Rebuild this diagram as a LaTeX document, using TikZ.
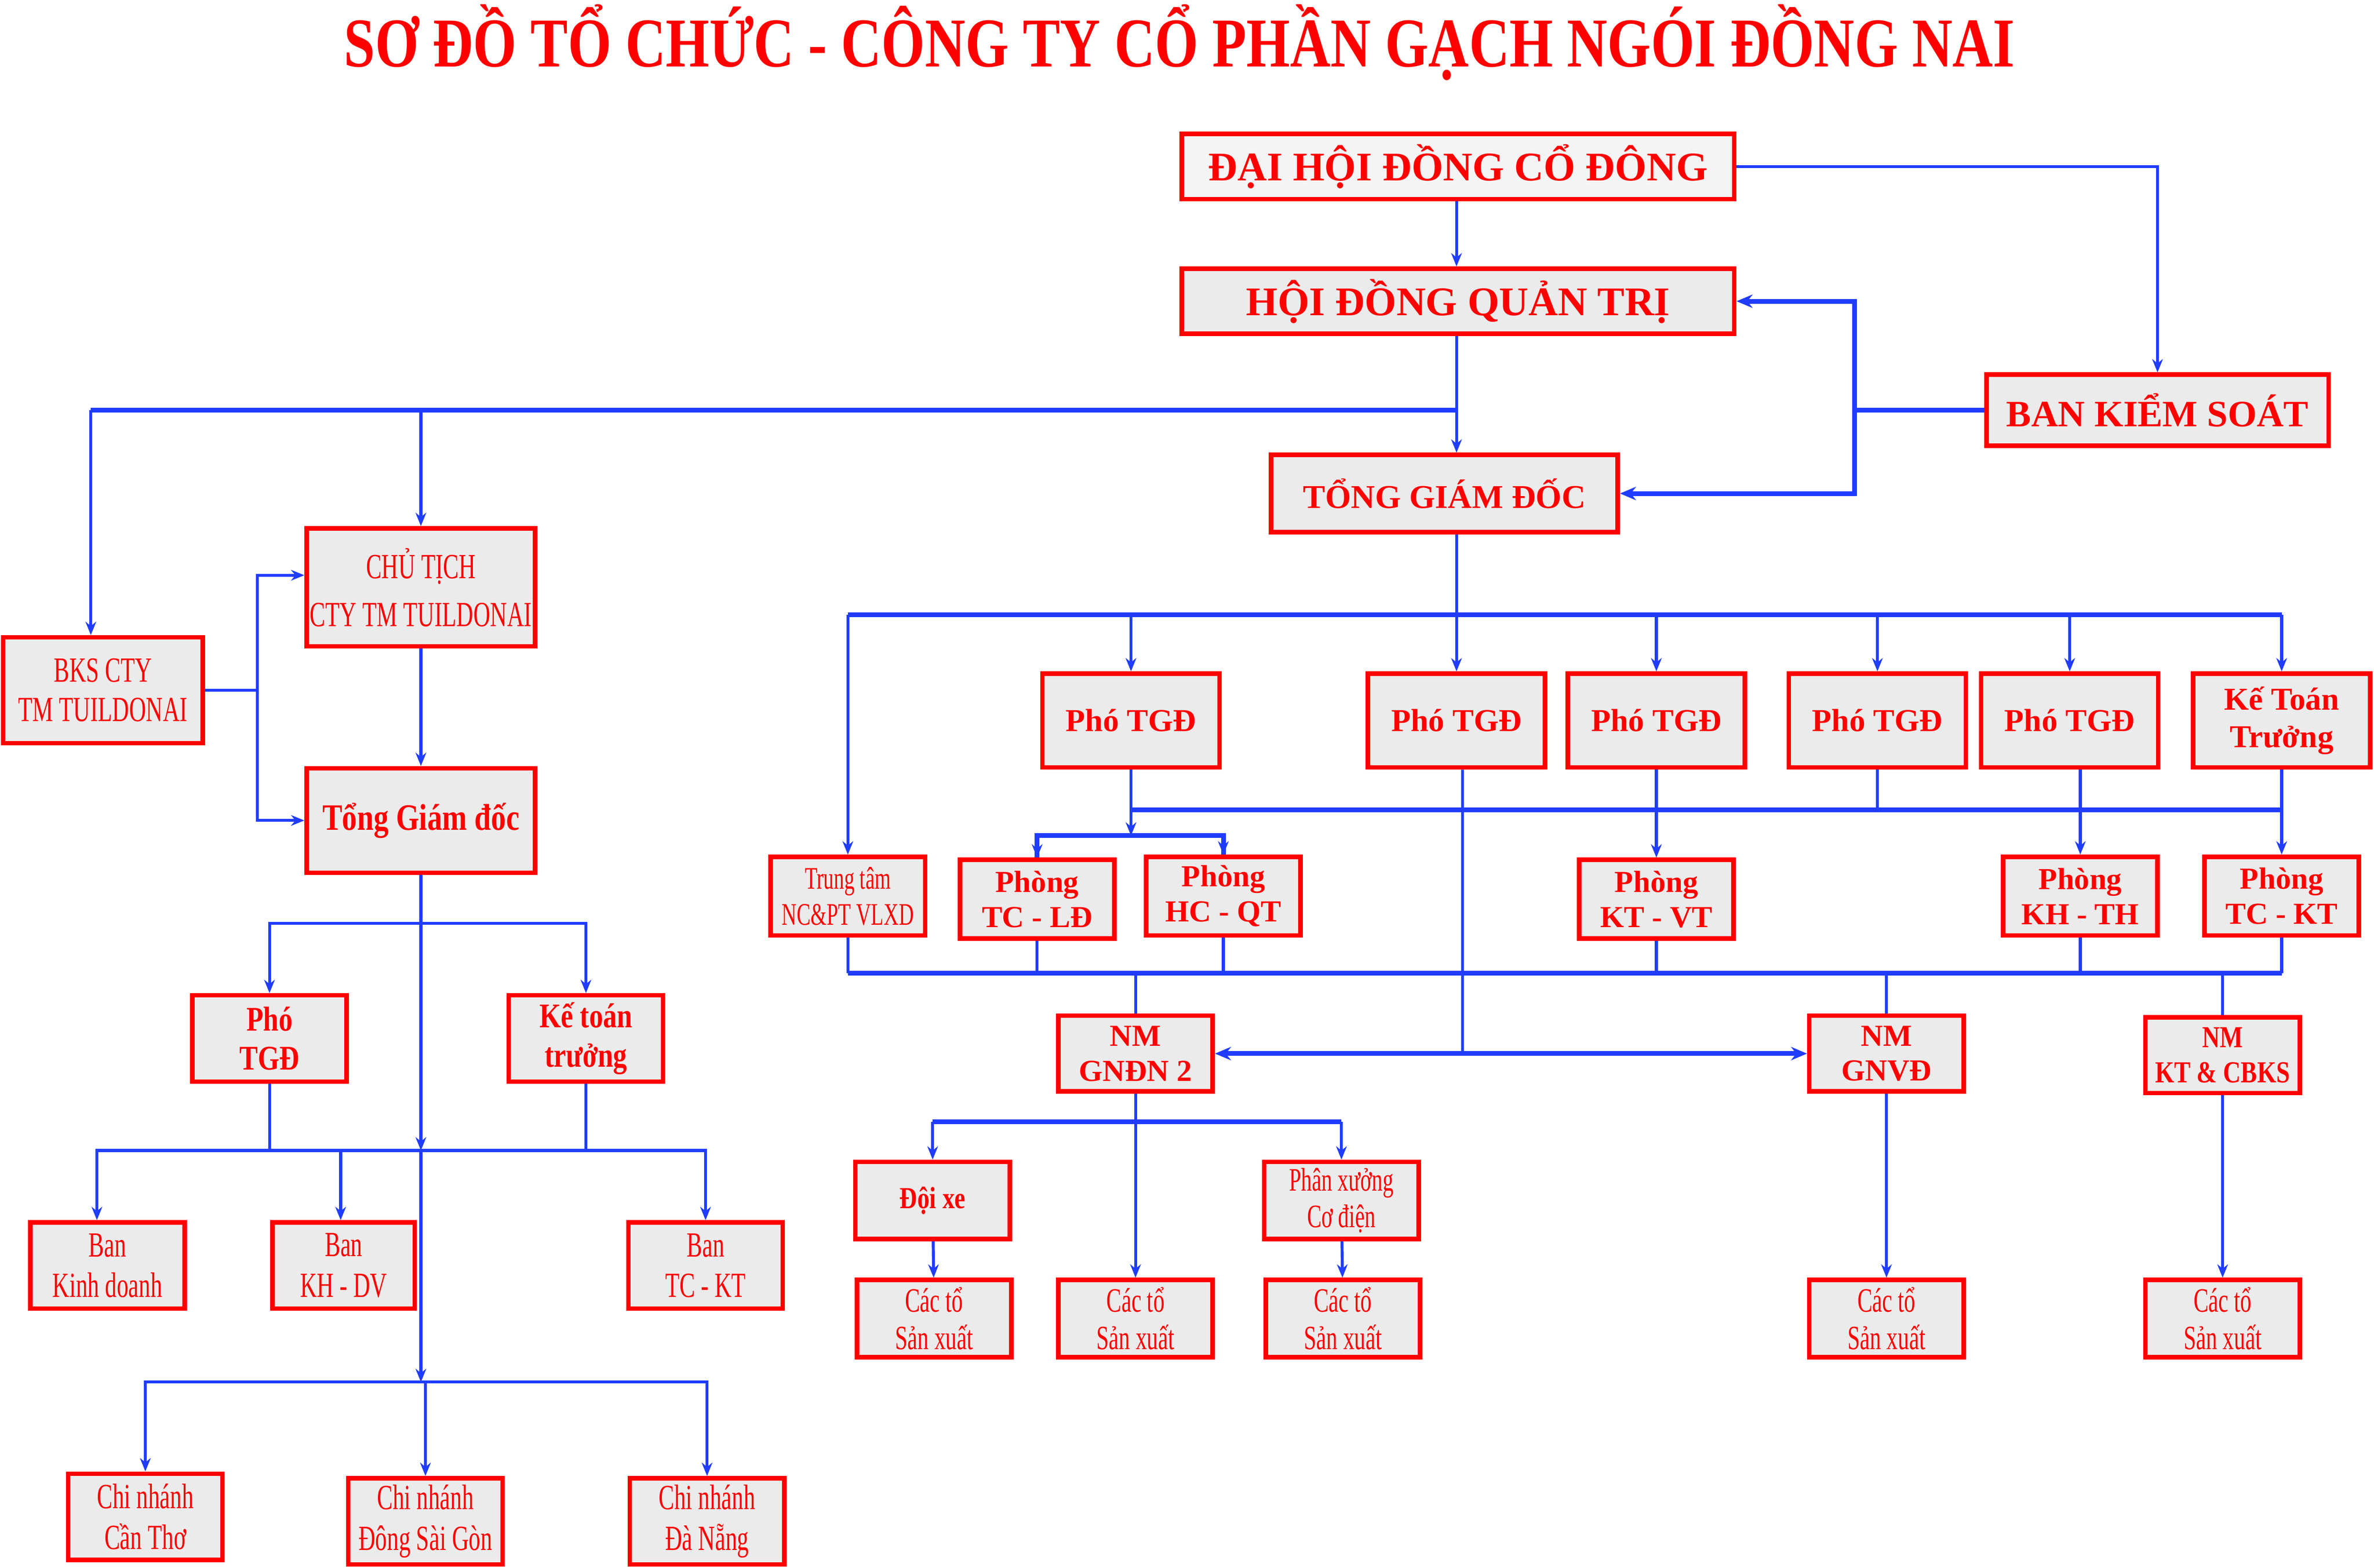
\documentclass[tikz,border=0pt]{standalone}
\usepackage{fontspec}
\setmainfont{Liberation Serif}
\newfontfamily\condfont{Liberation Serif}[FakeStretch=0.8]
\newfontfamily\narrowfont{Liberation Serif}[FakeStretch=0.66]
\usetikzlibrary{arrows.meta}
\definecolor{boxred}{RGB}{255,0,0}
\definecolor{boxgray}{RGB}{235,235,235}
\definecolor{boxlight}{RGB}{244,244,244}
\definecolor{linkblue}{RGB}{32,60,255}
\tikzset{
  box/.style={draw=boxred, line width=1.7pt, fill=boxgray, text=boxred, align=center, inner sep=1pt},
  sbox/.style={box, minimum width=2.04cm, minimum height=1.14cm},
  rbox/.style={box, minimum width=2.04cm, minimum height=1.04cm},
  pbox/.style={box, minimum width=2.34cm, minimum height=1.24cm},
  boldtxt/.style={font=\bfseries\fontsize{11.5}{13.2}\selectfont},
  condtxt/.style={font=\condfont\bfseries\fontsize{13}{14.8}\selectfont},
  thintxt/.style={font=\narrowfont\fontsize{13.3}{15.3}\selectfont},
  link/.style={draw=linkblue, line width=1.1pt},
  bus/.style={draw=linkblue, line width=1.8pt},
  arr/.style={link, -{Stealth[length=5pt,width=4pt]}},
  arrb/.style={bus, -{Stealth[length=6pt,width=5pt]}}
}
\begin{document}
\begin{tikzpicture}[x=0.02cm, y=-0.02cm]
\fill[white] (0,0) rectangle (1568,1035.8);
\useasboundingbox (0,0) rectangle (1568,1035.8);

\node[anchor=base, text=boxred, font=\condfont\bfseries\fontsize{26.3}{30}\selectfont] (title) at (779,44)
  {SƠ ĐỒ TỔ CHỨC - CÔNG TY CỔ PHẦN GẠCH NGÓI ĐỒNG NAI};

% top
\node[box, fill=boxlight, minimum width=7.3cm, minimum height=.86cm, font=\bfseries\fontsize{15.3}{18}\selectfont] (dhcd) at (963,110) {ĐẠI HỘI ĐỒNG CỔ ĐÔNG};
\node[box, minimum width=7.3cm, minimum height=.86cm, font=\bfseries\fontsize{15.3}{18}\selectfont] (hdqt) at (963,199) {HỘI ĐỒNG QUẢN TRỊ};
\node[box, minimum width=4.52cm, minimum height=.94cm, font=\bfseries\fontsize{14}{16}\selectfont] (bks) at (1425,271) {BAN KIỂM SOÁT};
\node[box, minimum width=4.58cm, minimum height=1.02cm, font=\bfseries\fontsize{12.5}{15}\selectfont] (tgd) at (954,326) {TỔNG GIÁM ĐỐC};

% left branch
\node[box, minimum width=2.64cm, minimum height=1.4cm, font=\narrowfont\fontsize{13.3}{14.8}\selectfont] (bkscty) at (68,456) {BKS CTY\\TM TUILDONAI};
\node[box, minimum width=3.02cm, minimum height=1.56cm, font=\narrowfont\fontsize{13.3}{18}\selectfont] (chutich) at (278,388) {CHỦ TỊCH\\CTY TM TUILDONAI};
\node[box, minimum width=3.02cm, minimum height=1.38cm, font=\condfont\bfseries\fontsize{14}{16}\selectfont] (tgdl) at (278,542) {Tổng Giám đốc};
\node[sbox, condtxt] (phol) at (178,686) {Phó\\TGĐ};
\node[sbox, condtxt] (kttl) at (387,686) {Kế toán\\trưởng};
\node[sbox, thintxt] (bankd) at (71,836) {Ban\\Kinh doanh};
\node[sbox, thintxt, minimum width=1.88cm] (bankh) at (227,836) {Ban\\KH - DV};
\node[sbox, thintxt] (bantc) at (466,836) {Ban\\TC - KT};
\node[sbox, thintxt] (cantho) at (96,1002) {Chi nhánh\\Cần Thơ};
\node[sbox, thintxt] (dsg) at (281,1005) {Chi nhánh\\Đông Sài Gòn};
\node[sbox, thintxt] (danang) at (467,1005) {Chi nhánh\\Đà Nẵng};

% right branch
\node[pbox, font=\bfseries\fontsize{12}{14.2}\selectfont] (pho1) at (747,476) {Phó TGĐ};
\node[pbox, font=\bfseries\fontsize{12}{14.2}\selectfont] (pho2) at (962,476) {Phó TGĐ};
\node[pbox, font=\bfseries\fontsize{12}{14.2}\selectfont] (pho3) at (1094,476) {Phó TGĐ};
\node[pbox, font=\bfseries\fontsize{12}{14.2}\selectfont] (pho4) at (1240,476) {Phó TGĐ};
\node[pbox, font=\bfseries\fontsize{12}{14.2}\selectfont] (pho5) at (1367,476) {Phó TGĐ};
\node[pbox, font=\bfseries\fontsize{12}{14.2}\selectfont] (ktt2) at (1507,476) {Kế Toán\\Trưởng};

\node[rbox, font=\narrowfont\fontsize{11.8}{13.6}\selectfont] (ttam) at (560,592) {Trung tâm\\NC\&PT VLXD};
\node[rbox, boldtxt] (phtcld) at (685,594) {Phòng\\TC - LĐ};
\node[rbox, boldtxt] (phhcqt) at (808,592) {Phòng\\HC - QT};
\node[rbox, boldtxt] (phktvt) at (1094,594) {Phòng\\KT - VT};
\node[rbox, boldtxt] (phkhth) at (1374,592) {Phòng\\KH - TH};
\node[rbox, boldtxt] (phtckt) at (1507,592) {Phòng\\TC - KT};

\node[rbox, boldtxt, minimum height=1cm] (nmgndn) at (750,696) {NM\\GNĐN 2};
\node[rbox, boldtxt, minimum height=1cm] (nmgnvd) at (1246,696) {NM\\GNVĐ};
\node[rbox, minimum height=1cm, font=\condfont\bfseries\fontsize{11.5}{13.2}\selectfont] (nmkt) at (1468,697) {NM\\KT \& CBKS};

\node[rbox, minimum height=1.02cm, font=\condfont\bfseries\fontsize{11.5}{13.2}\selectfont] (doixe) at (616,793) {Đội xe};
\node[rbox, minimum height=1.02cm, font=\narrowfont\fontsize{12.3}{13.6}\selectfont] (pxcd) at (886,793) {Phân xưởng\\Cơ điện};
\node[rbox, minimum height=1.02cm, font=\narrowfont\fontsize{12.8}{14.2}\selectfont] (cato1) at (617,871) {Các tổ\\Sản xuất};
\node[rbox, minimum height=1.02cm, font=\narrowfont\fontsize{12.8}{14.2}\selectfont] (cato2) at (750,871) {Các tổ\\Sản xuất};
\node[rbox, minimum height=1.02cm, font=\narrowfont\fontsize{12.8}{14.2}\selectfont] (cato3) at (887,871) {Các tổ\\Sản xuất};
\node[rbox, minimum height=1.02cm, font=\narrowfont\fontsize{12.8}{14.2}\selectfont] (cato4) at (1246,871) {Các tổ\\Sản xuất};
\node[rbox, minimum height=1.02cm, font=\narrowfont\fontsize{12.8}{14.2}\selectfont] (cato5) at (1468,871) {Các tổ\\Sản xuất};

% junctions
\coordinate (j0) at (962,271);
\coordinate (kv) at (1225,271);
\coordinate (kl) at (170,456);
\coordinate (s1) at (278,610);
\coordinate (s2) at (278,760);
\coordinate (s3) at (278,913);
\coordinate (r0) at (962,406);
\coordinate (r1) at (747,535);
\coordinate (r2) at (747,552);
\coordinate (r3) at (560,643);
\coordinate (r4) at (966,696);
\coordinate (r5) at (750,741);

% top links
\draw[arr] (dhcd.south -| j0) -- (hdqt.north -| j0);
\draw[arr] (dhcd.east) -| (bks.north);
\draw[arr] (hdqt.south -| j0) -- (tgd.north -| j0);
\draw[bus] (bks.west) -- (kv);
\draw[arrb] (kv) |- (hdqt.east);
\draw[arrb] (kv) |- (tgd.east);

% left links
\draw[bus] (j0) -- ([xshift=-.16cm]bkscty.north |- j0);
\draw[arr] ([xshift=-.16cm]bkscty.north |- j0) -- ([xshift=-.16cm]bkscty.north);
\draw[arr] (chutich |- j0) -- (chutich);
\draw[link] (bkscty) -- (kl);
\draw[arr] (kl) |- ([yshift=.16cm]chutich.west);
\draw[arr] (kl) |- (tgdl);
\draw[arr] (chutich) -- (tgdl);
\draw[link] (tgdl) -- (s1);
\draw[arr] (s1) -| (phol);
\draw[arr] (s1) -| (kttl);
\draw[arr] (s1) -- (s2);
\draw[arr] (s2) -- (s3);
\draw[link] (phol) -- (phol |- s2);
\draw[link] (kttl) -- (kttl |- s2);
\draw[arr] (s2) -| ([xshift=-.14cm]bankd.north);
\draw[arr] (s2) -| ([xshift=-.04cm]bankh.north);
\draw[arr] (s2) -| (bantc);
\draw[arr] (s3) -| (cantho);
\draw[arr] (s3 -| dsg) -- (dsg);
\draw[arr] (s3) -| (danang);
\draw[link] (s3) -- (s3 -| dsg);

% right links
\draw[arr] (tgd.south -| r0) -- (pho2);
\draw[bus] (ttam |- r0) -- (ktt2 |- r0);
\draw[arr] (ttam |- r0) -- (ttam);
\draw[arr] (pho1 |- r0) -- (pho1);
\draw[arr] (pho3 |- r0) -- (pho3);
\draw[arr] (pho4 |- r0) -- (pho4);
\draw[arr] (pho5 |- r0) -- (pho5);
\draw[arr] (ktt2 |- r0) -- (ktt2);
\draw[bus] (r1) -- (ktt2 |- r1);
\draw[arr] (pho1) -- (r2);
\draw[bus] (r2) -| (phtcld.north);
\draw[bus] (r2) -| (phhcqt.north);
\draw[arr] (r2 -| phtcld) -- (phtcld);
\draw[arr] (r2 -| phhcqt) -- (phhcqt);
\draw[arr] (pho3) -- (phktvt);
\draw[link] (pho4) -- (pho4 |- r1);
\draw[arr] (pho5.south -| phkhth) -- (phkhth);
\draw[arr] (ktt2) -- (phtckt);
\draw[link] ([xshift=.08cm]pho2.south) -- (r4);
\draw[arrb] (r4) -- (nmgndn);
\draw[arrb] (r4) -- (nmgnvd);

\draw[bus] (r3) -- (phtckt |- r3);
\draw[link] (ttam) -- (ttam |- r3);
\draw[link] (phtcld) -- (phtcld |- r3);
\draw[link] (phhcqt) -- (phhcqt |- r3);
\draw[link] (phktvt) -- (phktvt |- r3);
\draw[link] (phkhth) -- (phkhth |- r3);
\draw[link] (phtckt) -- (phtckt |- r3);
\draw[link] (nmgndn |- r3) -- (nmgndn);
\draw[link] (nmgnvd |- r3) -- (nmgnvd);
\draw[link] (nmkt |- r3) -- (nmkt);

% factories
\draw[link] (nmgndn) -- (r5);
\draw[arr] (r5) -- (cato2);
\draw[bus] (doixe |- r5) -- (pxcd |- r5);
\draw[arr] (doixe |- r5) -- (doixe);
\draw[arr] (pxcd |- r5) -- (pxcd);
\draw[arr] (doixe) -- (cato1);
\draw[arr] (pxcd) -- (cato3);
\draw[arr] (nmgnvd) -- (cato4);
\draw[arr] (nmkt) -- (cato5);
\end{tikzpicture}
\end{document}
